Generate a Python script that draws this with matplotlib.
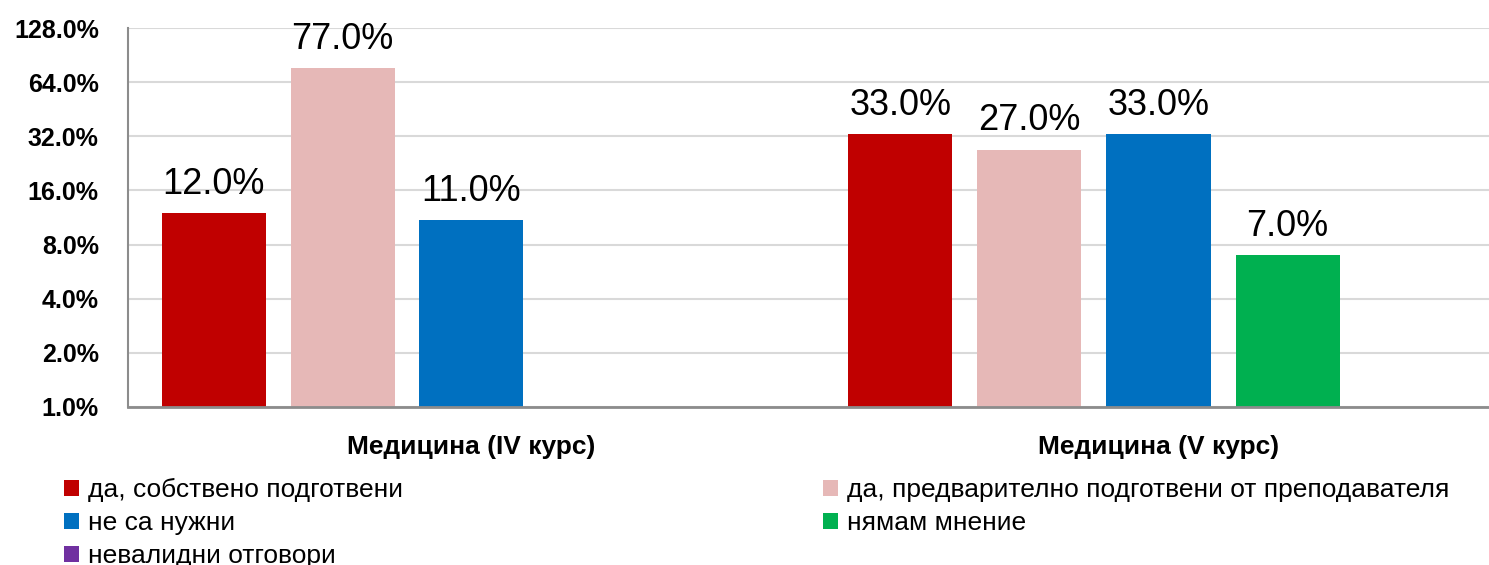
import numpy as np
import matplotlib.pyplot as plt
import matplotlib.ticker as ticker
from matplotlib.patches import Patch

plt.rcParams['font.family'] = ['Liberation Sans Narrow', 'Liberation Sans', 'DejaVu Sans']

categories = ["Медицина (IV курс)", "Медицина (V курс)"]
series = ["да, собствено подготвени",
          "да, предварително подготвени от преподавателя",
          "не са нужни",
          "нямам мнение",
          "невалидни отговори"]
# percent, 0 = no bar
values = [
    [12.0, 33.0],
    [77.0, 27.0],
    [11.0, 33.0],
    [0.0, 7.0],
    [0.0, 0.0],
]
colors = ["#C00000", "#E6B8B7", "#0070C0", "#00B050", "#7030A0"]
yticks = [1, 2, 4, 8, 16, 32, 64, 128]

fig = plt.figure(figsize=(14.89, 5.65), dpi=100)
ax = fig.add_axes([128/1489, 1-407/565, 1374/1489, (407-28)/565])

slot = 129/687
width = 104/687
x = np.arange(len(categories))
for i, (name, vals) in enumerate(zip(series, values)):
    pos = x + (i - 2) * slot
    ax.bar(pos, vals, width=width, color=colors[i], zorder=2)
    for px, v in zip(pos, vals):
        if v > 0:
            ax.annotate("{:.1f}%".format(v), xy=(px, v), xytext=(0, 8),
                        textcoords='offset points', ha='center', va='bottom',
                        fontsize=26)

ax.set_yscale('log', base=2)
ax.set_ylim(1, 128)
ax.set_xlim(-0.5, 1.5)
ax.set_yticks(yticks)
ax.yaxis.set_major_formatter(ticker.FuncFormatter(lambda v, p: "{:.1f}%".format(v)))
ax.yaxis.set_minor_locator(ticker.NullLocator())
ax.set_xticks(x)
ax.set_xticklabels(categories, fontsize=19, fontweight='bold')
ax.tick_params(axis='y', length=0, pad=21, labelsize=18)
for lab in ax.get_yticklabels():
    lab.set_fontweight('bold')
ax.tick_params(axis='x', length=0, pad=20)
ax.grid(axis='y', color='#d9d9d9', linewidth=1.5, zorder=0)
ax.spines['top'].set_visible(False)
ax.spines['right'].set_visible(False)
ax.spines['left'].set_color('#8c8c8c')
ax.spines['bottom'].set_color('#8c8c8c')
ax.spines['left'].set_linewidth(1.5)
ax.spines['bottom'].set_linewidth(2)

handles = [Patch(facecolor=c, edgecolor='none') for c in colors]
leg_kw = dict(loc='upper left', frameon=False, fontsize=19, handlelength=0.55,
              handleheight=0.55, handletextpad=0.35, labelspacing=0.34,
              borderpad=0, borderaxespad=0)
fig.legend([handles[0], handles[2], handles[4]], [series[0], series[2], series[4]],
           bbox_to_anchor=(64/1489, 1-478/565), **leg_kw)
fig.legend([handles[1], handles[3]], [series[1], series[3]],
           bbox_to_anchor=(823/1489, 1-478/565), **leg_kw)

fig.savefig("out.png", dpi=100)
